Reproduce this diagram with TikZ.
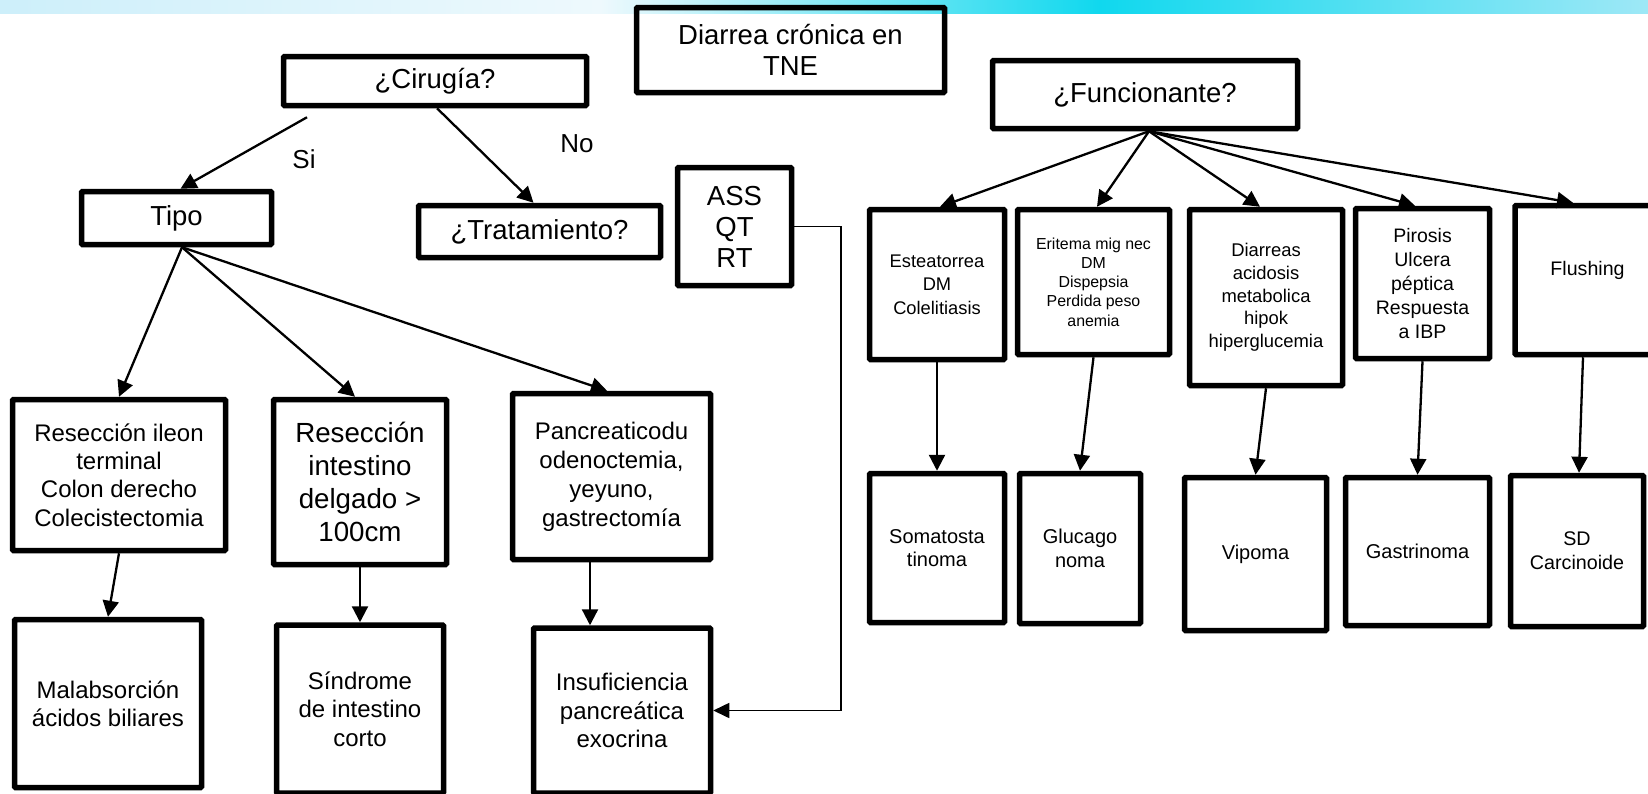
\documentclass[tikz,border=0pt]{standalone}
\usepackage{fontspec}
\setmainfont{Liberation Sans}
\usetikzlibrary{arrows.meta}
\newcommand{\fsz}[2]{\fontsize{#1}{#2}\selectfont}
\definecolor{bandpale}{HTML}{CDEFFA}
\definecolor{bandwhite}{HTML}{EEF9FD}
\definecolor{bandcyan}{HTML}{10D8EE}
\definecolor{bandlight}{HTML}{9EE8F6}

\begin{document}
\begin{tikzpicture}[x=1pt,y=-1pt]
    \tikzstyle{box}=[draw, line width=5.5pt, rounded corners=1pt, align=center, inner sep=2pt]
    \tikzstyle{arr}=[line width=2.3pt, -{Triangle[length=16pt,width=16pt]}]
    \tikzstyle{arrthin}=[line width=1.6pt, -{Triangle[length=16pt,width=15pt]}]
    \path[use as bounding box] (0,0) rectangle (1648,793);
    \clip (0,0) rectangle (1648,793);
    % banda de fondo
    \shade[left color=bandpale, right color=bandwhite] (0,0) rectangle (600,13);
    \shade[left color=bandwhite, right color=bandcyan] (600,0) rectangle (1100,13);
    \shade[left color=bandcyan, right color=bandlight] (1100,0) rectangle (1648,13);

    % cabecera
    \node[box, minimum width=308pt, minimum height=85pt, font=\fsz{27.5}{31.6}] (tne) at (790.5,50) {Diarrea crónica en\\TNE};
    \node[box, minimum width=303pt, minimum height=49pt, font=\fsz{27.5}{31.6}] (cirugia) at (435,81) {¿Cirugía?};
    \node[box, minimum width=305pt, minimum height=68pt, font=\fsz{27.5}{31.6}] (funcionante) at (1145,94.5) {¿Funcionante?};

    % rama quirurgica
    \node[box, minimum width=190pt, minimum height=53pt, font=\fsz{27.5}{31.6}] (tipo) at (176.5,218) {Tipo};
    \node[box, minimum width=242pt, minimum height=52pt, font=\fsz{27.5}{31.6}] (tratamiento) at (539.5,231.5) {¿Tratamiento?};
    \node[box, minimum width=114pt, minimum height=118pt, font=\fsz{27.5}{31}] (ass) at (734.5,226.5) {ASS\\QT\\RT};
    \node[font=\fsz{26}{30}] (si) at (304,159) {Si};
    \node[font=\fsz{26}{30}] (no) at (577,144) {No};

    \node[box, minimum width=213pt, minimum height=151pt, font=\fsz{24}{28.3}] (ileon) at (119,475) {Resección ileon\\terminal\\Colon derecho\\Colecistectomia};
    \node[box, minimum width=173pt, minimum height=165pt, font=\fsz{27.7}{33}] (intestino) at (360,482) {Resección\\intestino\\delgado >\\100cm};
    \node[box, minimum width=198pt, minimum height=166pt, font=\fsz{24}{29}] (pancreatico) at (611.5,476.5) {Pancreaticodu\\odenoctemia,\\yeyuno,\\gastrectomía};

    \node[box, minimum width=187pt, minimum height=168pt, font=\fsz{24}{28.3}] (malabs) at (108,703.5) {Malabsorción\\ácidos biliares};
    \node[box, minimum width=167pt, minimum height=168pt, font=\fsz{24}{28.3}] (sindrome) at (360,709) {Síndrome\\de intestino\\corto};
    \node[box, minimum width=177pt, minimum height=165pt, font=\fsz{24}{28.3}] (insuf) at (622,710.5) {Insuficiencia\\pancreática\\exocrina};

    % rama funcional
    \node[box, minimum width=135pt, minimum height=150pt, font=\fsz{18.3}{23.3}] (esteat) at (937,284.5) {Esteatorrea\\DM\\Colelitiasis};
    \node[box, minimum width=152pt, minimum height=145pt, font=\fsz{15.9}{19.2}] (eritema) at (1093.5,282) {Eritema mig nec\\DM\\Dispepsia\\Perdida peso\\anemia};
    \node[box, minimum width=153pt, minimum height=176pt, font=\fsz{18.4}{22.7}] (diarreas) at (1266,297.5) {Diarreas\\acidosis\\metabolica\\hipok\\hiperglucemia};
    \node[box, minimum width=134pt, minimum height=150pt, font=\fsz{19.5}{24}] (pirosis) at (1422.5,283.5) {Pirosis\\Ulcera\\péptica\\Respuesta\\a IBP};
    \node[box, minimum width=145pt, minimum height=149pt, font=\fsz{19.6}{24}] (flushing) at (1587.5,280) {Flushing\\\mbox{}};

    \node[box, minimum width=135pt, minimum height=149pt, font=\fsz{20}{23.5}] (somato) at (937,548) {Somatosta\\tinoma};
    \node[box, minimum width=121pt, minimum height=150pt, font=\fsz{20}{23.5}] (glucagon) at (1080,548.5) {Glucago\\noma};
    \node[box, minimum width=142pt, minimum height=153pt, font=\fsz{20}{23.5}] (vipoma) at (1255.5,554) {Vipoma};
    \node[box, minimum width=144pt, minimum height=148pt, font=\fsz{20}{23.5}] (gastrino) at (1417.5,551.5) {Gastrinoma};
    \node[box, minimum width=133pt, minimum height=151pt, font=\fsz{19.7}{24}] (sd) at (1577,551) {SD\\Carcinoide};

    % flechas
    \draw[arr] ([xshift=-128pt,yshift=-9pt]cirugia.south) -- ([xshift=4pt]tipo.north);
    \draw[arr] ([xshift=2pt]cirugia.south) -- ([xshift=-6pt]tratamiento.north);
    \draw[arr] ([xshift=5.5pt]tipo.south) -- (ileon.north);
    \draw[arr] ([xshift=5.5pt]tipo.south) -- ([xshift=-5pt]intestino.north);
    \draw[arr] ([xshift=5.5pt]tipo.south) -- ([xshift=-4.5pt]pancreatico.north);
    \draw[arr] (ileon.south) -- (malabs.north);
    \draw[arr] (intestino.south) -- (sindrome.north);
    \draw[arr] ([xshift=-21.5pt]pancreatico.south) -- ([xshift=-32pt]insuf.north);
    \draw[arrthin] (ass.east) -- ++(47,0) |- (insuf.east);

    \draw[arr] ([xshift=4pt]funcionante.south) -- ([xshift=3pt]esteat.north);
    \draw[arr] ([xshift=4pt]funcionante.south) -- ([xshift=3.5pt]eritema.north);
    \draw[arr] ([xshift=4pt]funcionante.south) -- ([xshift=-6pt]diarreas.north);
    \draw[arr] ([xshift=4pt]funcionante.south) -- ([xshift=-7.5pt]pirosis.north);
    \draw[arr] ([xshift=4pt]funcionante.south) -- ([xshift=-14.5pt]flushing.north);
    \draw[arr] (esteat.south) -- (somato.north);
    \draw[arr] (eritema.south) -- (glucagon.north);
    \draw[arr] (diarreas.south) -- (vipoma.north);
    \draw[arr] (pirosis.south) -- (gastrino.north);
    \draw[arr] ([xshift=-4.5pt]flushing.south) -- ([xshift=2pt]sd.north);
\end{tikzpicture}
\end{document}
